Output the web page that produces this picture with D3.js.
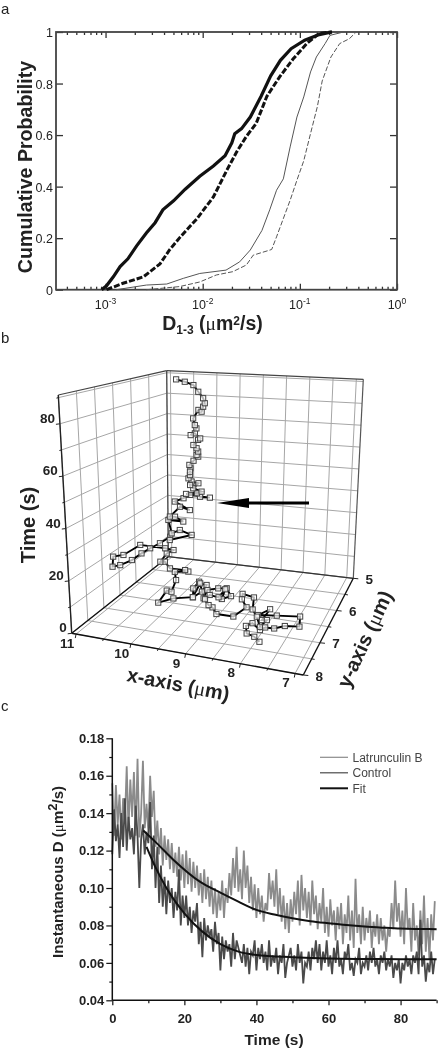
<!DOCTYPE html>
<html>
<head>
<meta charset="utf-8">
<script src="https://cdnjs.cloudflare.com/ajax/libs/d3/7.8.5/d3.min.js"></script>
<style>
  html, body { margin: 0; background: #fff; }
  svg { display: block; font-family: "Liberation Sans", Arial, sans-serif; filter: blur(0.5px); }
  .domain { display: none; }
</style>
</head>
<body>
<svg id="fig" width="439" height="1049"></svg>
<script>
//panel a: cumulative probability, x values are log10(D)
var thickSolidLogD = [-3.04,-2.99,-2.92,-2.85,-2.77,-2.68,-2.58,-2.49,-2.41,-2.30,-2.18,-2.03,-1.89,-1.77,-1.70,-1.67,-1.60,-1.51,-1.40,-1.30,-1.20,-1.09,-0.95,-0.80,-0.67]
var thickSolidP = [0,0.015,0.05,0.09,0.12,0.17,0.22,0.26,0.31,0.345,0.39,0.44,0.48,0.52,0.57,0.605,0.625,0.67,0.75,0.83,0.89,0.935,0.968,0.99,1]
var thickDashLogD = [-2.99,-2.82,-2.61,-2.44,-2.34,-2.23,-2.06,-1.89,-1.75,-1.65,-1.55,-1.45,-1.34,-1.21,-1.07,-0.93,-0.80,-0.67]
var thickDashP = [0,0.025,0.05,0.10,0.155,0.205,0.275,0.36,0.465,0.535,0.595,0.645,0.75,0.825,0.895,0.955,0.995,1]
var thinSolidLogD = [-2.89,-2.58,-2.37,-2.20,-2.03,-1.76,-1.62,-1.51,-1.39,-1.31,-1.24,-1.17,-1.10,-1.03,-0.96,-0.89,-0.83,-0.74,-0.69,-0.55]
var thinSolidP = [0,0.018,0.022,0.044,0.063,0.076,0.108,0.154,0.23,0.31,0.386,0.43,0.554,0.67,0.748,0.845,0.903,0.955,0.987,1]
var thinDashLogD = [-2.58,-2.24,-2.03,-1.86,-1.69,-1.55,-1.48,-1.29,-1.24,-1.10,-1.03,-0.96,-0.89,-0.82,-0.77,-0.68,-0.59,-0.49,-0.42]
var thinDashP = [0,0.012,0.03,0.057,0.07,0.096,0.134,0.156,0.205,0.347,0.425,0.50,0.606,0.71,0.81,0.903,0.955,0.974,1]
var probTicks = [0, 0.2, 0.4, 0.6, 0.8, 1]
var decadeTicks = [0.001, 0.01, 0.1, 1]
var decadeExps = ["-3", "-2", "-1", "0"]

//panel b: single track
var trackX = [7.93,8.07,8.23,8.33,8.24,8.01,7.94,7.76,7.59,7.31,7.40,7.83,8.16,8.01,8.01,7.91,7.94,8.11,8.27,8.40,8.65,8.57,8.36,8.45,8.76,8.91,9.00,9.18,9.24,9.06,8.90,8.69,8.79,8.87,8.85,9.02,9.02,9.40,9.37,
  9.21,9.14,9.16,9.28,9.16,9.44,9.59,9.65,9.54,9.66,9.82,9.58,9.65,9.92,10.13,10.19,10.24,10.18,10.35,10.36,10.69,10.89,10.91,10.76,10.53,10.34,10.17,9.98,9.78,9.96,9.53,9.76,9.92,9.98,9.69,9.85,9.95,9.75,9.56,
  9.85,9.68,9.55,9.17,9.36,9.42,9.63,9.33,9.49,9.39,9.52,9.55,9.58,9.55,9.54,9.55,9.56,9.48,9.39,9.42,9.39,9.42,9.48,9.39,9.35,9.45,9.53,9.42,9.45,9.48,9.38,9.32,9.29,9.26,9.29,9.38,9.47,9.63,9.79]
var trackY = [7.26,7.16,7.13,6.93,6.84,7.04,6.96,6.97,6.87,6.85,6.57,6.67,6.77,6.56,6.95,6.96,7.22,6.95,6.77,6.42,6.38,6.58,6.84,7.22,7.25,7.09,7.06,6.89,6.62,6.55,6.53,6.79,6.96,6.65,6.97,6.97,7.16,6.63,6.91,
  7.24,7.03,6.81,6.82,7.35,7.52,7.78,7.35,7.39,6.99,6.74,6.69,6.68,6.73,6.54,6.59,6.29,6.16,6.16,6.95,6.95,6.95,6.95,6.95,6.95,6.95,6.95,6.95,6.95,6.65,6.65,6.65,6.65,6.65,6.65,6.65,6.65,6.65,6.65,
  6.65,6.65,6.65,6.65,6.65,6.65,6.65,6.65,6.65,6.65,6.65,6.65,6.65,6.65,6.65,6.65,6.65,6.65,6.65,6.65,6.65,6.65,6.65,6.65,6.65,6.65,6.65,6.65,6.65,6.65,6.65,6.65,6.65,6.65,6.65,6.65,6.65,6.65,6.65]
var trackT = [0,0.3,0.7,1.0,1.3,1.7,2.0,2.3,2.6,3.0,3.3,3.6,4.0,4.3,4.6,5.0,5.3,5.6,5.9,6.3,6.6,6.9,7.3,7.6,7.9,8.3,8.6,8.9,9.2,9.6,9.9,10.2,10.6,10.9,11.2,11.6,11.9,12.2,12.5,
  12.9,13.2,13.5,13.9,14.2,14.5,14.9,15.2,15.5,15.8,16.2,16.5,16.8,17.2,17.5,17.8,18.2,18.5,18.8,27.6,22.5,21.2,17.0,18.1,20.9,24.2,26.8,29.4,32.6,28.1,31.4,32.8,31.0,36.4,36.5,38.1,37.9,42.5,41.6,
  44.4,46.2,47.9,47.7,47.6,48.9,48.1,49.8,50.8,53.1,53.5,52.0,54.7,56.1,58.9,57.5,60.3,62.2,64.1,64.7,66.2,67.5,68.7,71.0,71.7,73.6,72.7,75.7,77.0,79.7,83.4,82.8,84.9,86.4,88.4,90.9,93.5,94.6,95.3]
var xGrid = [11,10.5,10,9.5,9,8.5,8,7.5,7]
var yGrid = [5,5.5,6,6.5,7,7.5,8]
var tGrid = [0,10,20,30,40,50,60,70,80,90]

//panel c: instantaneous D x 1000, one value every 0.5 s
var latrunculin = [156,128,155,134,150,126,148,136,165,131,158,138,162,128,169,127,140,168,132,145,
  130,160,138,152,122,136,118,132,112,128,115,126,110,124,108,119,106,122,104,118,
  100,120,102,116,98,114,100,112,96,108,92,110,94,106,90,104,86,100,84,98,
  88,104,84,100,92,108,96,116,100,122,98,110,94,120,100,112,92,106,88,102,
  84,100,86,96,82,92,88,108,94,104,90,110,86,100,82,96,78,92,76,94,
  82,98,86,104,80,107,88,100,84,98,80,104,86,96,78,92,82,100,76,90,
  74,94,80,88,72,90,78,92,70,86,76,96,72,88,68,105,76,86,70,90,
  72,84,76,88,68,82,74,86,70,84,72,80,66,78,74,92,78,104,82,92,
  74,88,70,100,78,84,66,92,72,80,64,88,70,96,66,84,62,86,72,93]
var control = [118,142,125,134,116,140,122,148,120,138,126,132,118,144,128,100,126,134,118,130,
  124,146,110,128,100,122,92,112,90,106,86,104,92,100,84,98,88,110,80,96,
  84,96,80,90,76,88,82,92,70,82,63,84,72,80,74,78,66,82,70,76,
  56,74,62,72,66,70,58,76,62,72,68,64,60,70,58,68,54,66,64,72,
  56,68,62,70,60,66,56,72,58,64,60,68,54,64,60,70,52,60,64,68,
  58,64,56,70,60,66,49,60,58,66,56,68,62,72,60,70,56,66,60,72,
  58,64,54,68,60,72,58,62,54,66,62,70,56,60,53,62,60,68,54,60,
  58,64,56,66,60,68,58,62,54,64,60,66,56,62,58,64,52,60,56,62,
  49,60,56,64,58,62,54,64,60,66,54,83,58,64,50,60,55,66,54,62]
var fitLatT = [8.6,12.3,17,24.3,30,35,40,45,50,55,60,65,70,75,80,85,90]
var fitLatD = [0.1307,0.124,0.115,0.1034,0.0975,0.0927,0.0883,0.0858,0.0838,0.0823,0.0812,0.0802,0.0794,0.0788,0.0783,0.0781,0.078]
var fitCtlT = [9.5,11.9,15.1,20,25,30,35,40,50,60,70,80,90]
var fitCtlD = [0.122,0.1114,0.0998,0.0865,0.0767,0.07,0.066,0.0642,0.063,0.0623,0.0621,0.062,0.0619]
var legendNames = ["Latrunculin B", "Control", "Fit"]

var svg = d3.select("#fig")
var ink = "#222"

function panelLetter(s, y) {
  svg.append("text").attr("x", 1).attr("y", y).attr("font-size", 15).attr("fill", ink).text(s)
}
panelLetter("a", 14)
panelLetter("b", 343)
panelLetter("c", 711)

drawA()
drawB()
drawC()

function drawA() {
  var left = 56, right = 397, top = 32, bottom = 289.7
  var x = d3.scaleLog().domain([Math.pow(10, -3.51), 1]).range([left, right])
  var y = d3.scaleLinear().domain([0, 1]).range([bottom, top])
  var g = svg.append("g")

  var minors = []
  d3.range(-4, 0).forEach(function (e) {
    d3.range(2, 10).forEach(function (m) {
      var v = m * Math.pow(10, e)
      if (x(v) >= left && v < 1) minors.push(v)
    })
  })

  function tickGroup(axis, tx, ty) {
    var a = g.append("g").attr("transform", "translate(" + tx + "," + ty + ")").call(axis)
    a.selectAll("line").attr("stroke", "#333").attr("stroke-width", 1.3)
    return a
  }
  tickGroup(d3.axisBottom(x).tickValues(decadeTicks).tickSize(-6).tickFormat(""), 0, bottom)
  tickGroup(d3.axisBottom(x).tickValues(minors).tickSize(-3).tickFormat(""), 0, bottom)
  tickGroup(d3.axisTop(x).tickValues(decadeTicks).tickSize(-6).tickFormat(""), 0, top)
  tickGroup(d3.axisTop(x).tickValues(minors).tickSize(-3).tickFormat(""), 0, top)
  tickGroup(d3.axisRight(y).tickValues(probTicks).tickSize(-7).tickFormat(""), right, 0)
  var ly = tickGroup(d3.axisLeft(y).tickValues(probTicks).tickSize(-7).tickFormat(function (d) { return d }), left, 0)
  ly.selectAll("text").attr("font-size", 12.5).attr("font-family", "Liberation Sans").attr("fill", ink).attr("x", -3).attr("dy", "0.36em")

  g.append("rect").attr("x", left).attr("y", top).attr("width", right - left).attr("height", bottom - top)
    .attr("fill", "none").attr("stroke", "#444").attr("stroke-width", 1.8)

  decadeTicks.forEach(function (d, i) {
    var t = g.append("text").attr("x", x(d)).attr("y", 309).attr("text-anchor", "middle")
      .attr("font-size", 12.5).attr("fill", ink).text("10")
    t.append("tspan").attr("dy", -5).attr("font-size", 8.5).text(decadeExps[i])
  })

  var line = d3.line()
    .x(function (d) { return x(Math.pow(10, d[0])) })
    .y(function (d) { return y(d[1]) })
  function curve(ld, p, width, color, dash) {
    g.append("path").datum(d3.zip(ld, p)).attr("d", line).attr("fill", "none")
      .attr("stroke", color).attr("stroke-width", width).attr("stroke-dasharray", dash)
  }
  curve(thinSolidLogD, thinSolidP, 1, "#555", null)
  curve(thinDashLogD, thinDashP, 1, "#555", "5,2")
  curve(thickDashLogD, thickDashP, 3, "#111", "6,2")
  curve(thickSolidLogD, thickSolidP, 3.2, "#111", null)

  g.append("text").attr("transform", "translate(32,167) rotate(-90)").attr("text-anchor", "middle")
    .attr("font-size", 19.6).attr("font-weight", "bold").attr("fill", ink).text("Cumulative Probability")

  var xl = g.append("text").attr("x", 212.5).attr("y", 330).attr("text-anchor", "middle")
    .attr("font-size", 19.5).attr("font-weight", "bold").attr("fill", ink)
  xl.append("tspan").text("D")
  xl.append("tspan").attr("dy", 4).attr("font-size", 12).text("1-3")
  xl.append("tspan").attr("dy", -4).text(" (")
  xl.append("tspan").attr("font-family", "Liberation Serif").attr("font-weight", "normal").text("\u03bc")
  xl.append("tspan").text("m")
  xl.append("tspan").attr("dy", -5).attr("font-size", 12).text("2")
  xl.append("tspan").attr("dy", 5).text("/s)")
}

function drawB() {
  //box corners on the page: floor, then top, going round from the x=11,y=8 corner
  var floor = [[71.7, 633.3], [303.3, 675], [353.3, 578.3], [168.3, 556.7]]
  var roof = [[58.3, 395], [310, 421.7], [363.3, 379.3], [166.7, 370.7]]
  var u = d3.scaleLinear().domain([11.08, 6.85]).range([0, 1])
  var v = d3.scaleLinear().domain([8, 5]).range([0, 1])
  var w = d3.scaleLinear().domain([0, 91]).range([0, 1])

  function project(px, py, pt) {
    var a = u(px), b = v(py), c = w(pt)
    return [0, 1].map(function (i) {
      function face(q) {
        return (1 - a) * (1 - b) * q[0][i] + a * (1 - b) * q[1][i] + a * b * q[2][i] + (1 - a) * b * q[3][i]
      }
      return (1 - c) * face(floor) + c * face(roof)
    })
  }
  var xMin = u.domain()[1], xMax = u.domain()[0], tMax = w.domain()[1]
  var g = svg.append("g")

  function seg(a, b, color, width) {
    g.append("line").attr("x1", a[0]).attr("y1", a[1]).attr("x2", b[0]).attr("y2", b[1])
      .attr("stroke", color).attr("stroke-width", width)
  }
  var grid = "#a6a6a6"
  //floor grid
  xGrid.forEach(function (d) { seg(project(d, 8, 0), project(d, 5, 0), grid, 1) })
  yGrid.forEach(function (d) { seg(project(xMax, d, 0), project(xMin, d, 0), grid, 1) })
  //back wall
  xGrid.forEach(function (d) { seg(project(d, 5, 0), project(d, 5, tMax), grid, 1) })
  tGrid.forEach(function (d) { seg(project(xMax, 5, d), project(xMin, 5, d), grid, 1) })
  //left wall
  yGrid.forEach(function (d) { seg(project(xMax, d, 0), project(xMax, d, tMax), grid, 1) })
  tGrid.forEach(function (d) { seg(project(xMax, 8, d), project(xMax, 5, d), grid, 1) })

  //box edges
  seg(project(xMax, 8, tMax), project(xMax, 5, tMax), "#444", 1.2)
  seg(project(xMax, 5, tMax), project(xMin, 5, tMax), "#444", 1.2)
  seg(project(xMax, 5, 0), project(xMax, 5, tMax), "#444", 1.2)
  seg(project(xMin, 5, 0), project(xMin, 5, tMax), "#555", 1.2)
  seg(project(xMax, 5, 0), project(xMin, 5, 0), "#333", 1.2)
  seg(project(xMax, 8, 0), project(xMax, 5, 0), "#111", 1.4)
  //axes
  seg(project(xMax, 8, 0), project(xMax, 8, tMax), "#222", 1.4)
  seg(project(xMax, 8, 0), project(xMin, 8, 0), "#111", 1.4)
  seg(project(xMin, 8, 0), project(xMin, 5, 0), "#111", 1.4)

  //ticks, drawn with axis generators would not follow the slant so they go by hand
  tGrid.forEach(function (d) {
    var p = project(xMax, 8, d)
    seg(p, [p[0] - (d % 20 ? 2 : 4), p[1] + 0.5], "#222", 1)
  })
  xGrid.forEach(function (d) {
    var p = project(d, 8, 0)
    seg(p, [p[0] - 0.8, p[1] + (Number.isInteger(d) ? 4 : 2)], "#222", 1)
  })
  yGrid.forEach(function (d) {
    var p = project(xMin, d, 0)
    seg(p, [p[0] + (Number.isInteger(d) ? 5 : 3), p[1] + 0.5], "#222", 1)
  })

  function label(p, dx, dy, s) {
    g.append("text").attr("x", p[0] + dx).attr("y", p[1] + dy + 4.7).attr("text-anchor", "middle")
      .attr("font-size", 13.5).attr("font-weight", "bold").attr("fill", ink).text(s)
  }
  ;[0, 20, 40, 60, 80].forEach(function (d) {
    var p = project(xMax, 8, d), s = String(d)
    g.append("text").attr("x", p[0] - 5).attr("y", p[1] - 1).attr("text-anchor", "end")
      .attr("font-size", 13.5).attr("font-weight", "bold").attr("fill", ink).text(s)
  })
  ;[11, 10, 9, 8, 7].forEach(function (d) { label(project(d, 8, 0), -9, 9, d) })
  ;[5, 6, 7, 8].forEach(function (d) { label(project(xMin, d, 0), 16, 1, d) })

  function axisTitle(tr, name) {
    var t = g.append("text").attr("transform", tr).attr("text-anchor", "middle")
      .attr("font-size", 20).attr("font-weight", "bold").attr("fill", ink)
    t.append("tspan").text(name)
    if (name.indexOf("axis") >= 0) {
      t.append("tspan").text(" (")
      t.append("tspan").attr("font-family", "Liberation Serif").attr("font-weight", "normal").text("\u03bc")
      t.append("tspan").text("m)")
    }
  }
  axisTitle("translate(35,525) rotate(-90)", "Time (s)")
  axisTitle("translate(177,691) rotate(11)", "x-axis")
  axisTitle("translate(371,642) rotate(-65)", "y-axis")

  //track
  var pts = trackX.map(function (d, i) { return project(d, trackY[i], trackT[i]) })
  g.append("path").attr("d", d3.line()(pts)).attr("fill", "none").attr("stroke", "#000").attr("stroke-width", 1.9)
  g.selectAll("rect.mark").data(pts).enter().append("rect").attr("class", "mark")
    .attr("x", function (d) { return d[0] - 2.6 })
    .attr("y", function (d) { return d[1] - 2.6 })
    .attr("width", 5.2).attr("height", 5.2)
    .attr("fill", "#fff").attr("fill-opacity", 0.7).attr("stroke", "#444").attr("stroke-width", 1)

  //arrow
  g.append("line").attr("x1", 309).attr("y1", 503).attr("x2", 240).attr("y2", 503).attr("stroke", "#000").attr("stroke-width", 3.2)
  g.append("path").attr("d", "M217,503L249,498L249,508Z").attr("fill", "#000")
}

function drawC() {
  var x = d3.scaleLinear().domain([0, 90]).range([112.3, 436.6])
  var y = d3.scaleLinear().domain([0.04, 0.18]).range([1000.3, 738.3])
  var g = svg.append("g")
  var stepT = function (d, i) { return x(i * 0.5) }
  var raw = d3.line().x(stepT).y(function (d) { return y(d / 1000) })
  g.append("path").datum(latrunculin).attr("d", raw).attr("fill", "none").attr("stroke", "#8b8b8b").attr("stroke-width", 1.8)
  g.append("path").datum(control).attr("d", raw).attr("fill", "none").attr("stroke", "#4a4a4a").attr("stroke-width", 1.8)

  var fit = d3.line().x(function (d) { return x(d[0]) }).y(function (d) { return y(d[1]) }).curve(d3.curveMonotoneX)
  g.append("path").datum(d3.zip(fitLatT, fitLatD)).attr("d", fit).attr("fill", "none").attr("stroke", "#111").attr("stroke-width", 2)
  g.append("path").datum(d3.zip(fitCtlT, fitCtlD)).attr("d", fit).attr("fill", "none").attr("stroke", "#111").attr("stroke-width", 2)

  function style(a) {
    a.selectAll("line").attr("stroke", "#111").attr("stroke-width", 1.2)
    a.selectAll("text").attr("font-size", 13).attr("font-weight", "bold").attr("font-family", "Liberation Sans").attr("fill", ink)
  }
  var ax = g.append("g").attr("transform", "translate(0,1000.3)")
    .call(d3.axisBottom(x).tickValues([0, 20, 40, 60, 80]).tickSize(5).tickPadding(8).tickFormat(d3.format("d")))
  style(ax)
  style(g.append("g").attr("transform", "translate(0,1000.3)")
    .call(d3.axisBottom(x).tickValues([10, 30, 50, 70, 90]).tickSize(3).tickFormat("")))
  var ay = g.append("g").attr("transform", "translate(112.3,0)")
    .call(d3.axisLeft(y).tickValues(d3.range(4, 19, 2).map(function (d) { return d / 100 })).tickSize(6).tickPadding(2).tickFormat(d3.format(".2f")))
  style(ay)
  style(g.append("g").attr("transform", "translate(112.3,0)")
    .call(d3.axisLeft(y).tickValues(d3.range(5, 18, 2).map(function (d) { return d / 100 })).tickSize(3).tickFormat("")))
  g.append("line").attr("x1", 112.3).attr("x2", 112.3).attr("y1", 738.3).attr("y2", 1000.3).attr("stroke", "#111").attr("stroke-width", 1.5)
  g.append("line").attr("x1", 112.3).attr("x2", 436.6).attr("y1", 1000.3).attr("y2", 1000.3).attr("stroke", "#111").attr("stroke-width", 1.5)

  g.append("text").attr("x", 274).attr("y", 1045).attr("text-anchor", "middle")
    .attr("font-size", 15.5).attr("font-weight", "bold").attr("fill", ink).text("Time (s)")

  var yl = g.append("text").attr("transform", "translate(63,872) rotate(-90)").attr("text-anchor", "middle")
    .attr("font-size", 15).attr("font-weight", "bold").attr("fill", ink)
  yl.append("tspan").text("Instantaneous D (")
  yl.append("tspan").attr("font-family", "Liberation Serif").attr("font-weight", "normal").text("\u03bc")
  yl.append("tspan").text("m")
  yl.append("tspan").attr("dy", -6).attr("font-size", 13).text("2")
  yl.append("tspan").attr("dy", 6).text("/s)")

  var legendColors = ["#8b8b8b", "#4a4a4a", "#111"]
  legendNames.forEach(function (name, i) {
    var ly = 757.3 + i * 15.5
    g.append("line").attr("x1", 320).attr("x2", 348).attr("y1", ly).attr("y2", ly)
      .attr("stroke", legendColors[i]).attr("stroke-width", i == 2 ? 2 : 1.2)
    g.append("text").attr("x", 352.5).attr("y", ly + 4.3).attr("font-size", 12).attr("fill", "#444").text(name)
  })
}
</script>
</body>
</html>
